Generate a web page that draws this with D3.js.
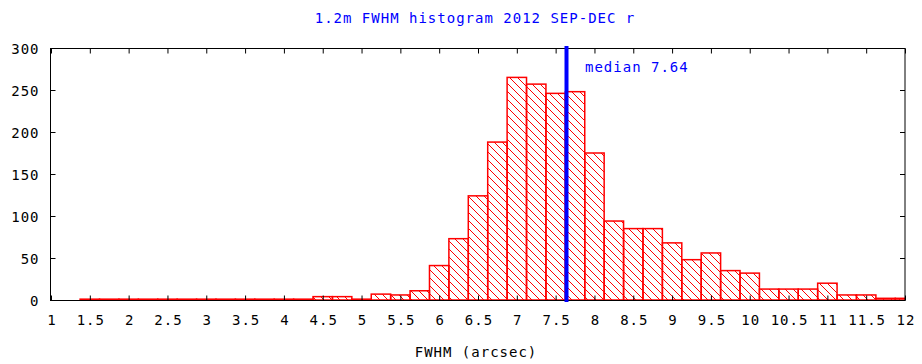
<!DOCTYPE html>
<html>
<head>
<meta charset="utf-8">
<script src="https://cdn.jsdelivr.net/npm/d3@7"></script>
<style>
  html, body { margin: 0; padding: 0; background: #fff; }
  svg { display: block; }
  text { font-family: "DejaVu Sans Mono", "Liberation Mono", monospace; font-size: 14px; letter-spacing: 1px; }
</style>
</head>
<body>
<svg id="chart" width="922" height="364"></svg>
<script>
// ---- data ----
const binCenters = [1.5,1.75,2,2.25,2.5,2.75,3,3.25,3.5,3.75,4,4.25,
  4.5,4.75,5,5.25,5.5,5.75,6,6.25,6.5,6.75,7,7.25,7.5,7.75,8,8.25,
  8.5,8.75,9,9.25,9.5,9.75,10,10.25,10.5,10.75,11,11.25,11.5,11.75,12];
const counts = [1,1,1,1,1,1,1,1,1,1,1,1,
  4,4,1,7,6,11,41,73,124,188,265,257,246,248,175,94,
  85,85,68,48,56,35,32,13,13,13,20,6,6,2,2];
const binWidth = 0.25;
const median = 7.64;
const xTicks = [1,1.5,2,2.5,3,3.5,4,4.5,5,5.5,6,6.5,7,7.5,8,8.5,9,9.5,10,10.5,11,11.5,12];
const yTicks = [0,50,100,150,200,250,300];
const titleText = "1.2m FWHM histogram 2012 SEP-DEC r";
const xLabel = "FWHM (arcsec)";

// ---- layout ----
const L = 51, R = 905, T = 48, B = 300;
const svg = d3.select("#chart");
const x = d3.scaleLinear().domain([1, 12]).range([L, R]);
const y = d3.scaleLinear().domain([0, 300]).range([B, T]);

const defs = svg.append("defs");
const pat = defs.append("pattern").attr("id", "hatch")
  .attr("patternUnits", "userSpaceOnUse").attr("width", 8).attr("height", 8);
pat.append("path").attr("d", "M-1,-1 L9,9 M-1,7 L1,9 M7,-1 L9,1")
  .attr("stroke", "#ff0000").attr("stroke-width", 1).attr("shape-rendering", "crispEdges");
defs.append("clipPath").attr("id", "plotclip").append("rect")
  .attr("x", L).attr("y", T - 2).attr("width", R - L).attr("height", B - T + 4);

// bars
const data = binCenters.map((c, i) => ({ c, v: counts[i] }));
svg.append("g").attr("clip-path", "url(#plotclip)")
  .selectAll("rect").data(data).enter().append("rect")
  .attr("x", d => x(d.c - binWidth / 2))
  .attr("width", d => x(d.c + binWidth / 2) - x(d.c - binWidth / 2))
  .attr("y", d => y(d.v))
  .attr("height", d => y(0) - y(d.v))
  .attr("fill", "url(#hatch)")
  .attr("stroke", "#ff0000")
  .attr("stroke-width", 1.5);

// frame
svg.append("rect").attr("x", L - 0.5).attr("y", T + 0.5).attr("width", R - L + 0.5).attr("height", B - T)
  .attr("fill", "none").attr("stroke", "#000").attr("stroke-width", 1);

// axes
const xb = svg.append("g").attr("transform", `translate(0,${B + 0.5})`)
  .call(d3.axisBottom(x).tickValues(xTicks).tickSizeInner(-5).tickSizeOuter(0).tickPadding(14).tickFormat(d3.format("")));
const xt = svg.append("g").attr("transform", `translate(0,${T + 0.5})`)
  .call(d3.axisTop(x).tickValues(xTicks).tickSizeInner(-5).tickSizeOuter(0).tickFormat(""));
const yl = svg.append("g").attr("transform", `translate(${L - 0.5},0)`)
  .call(d3.axisLeft(y).tickValues(yTicks).tickSizeInner(-5).tickSizeOuter(0).tickPadding(12));
const yr = svg.append("g").attr("transform", `translate(${R},0)`)
  .call(d3.axisRight(y).tickValues(yTicks).tickSizeInner(-5).tickSizeOuter(0).tickFormat(""));
[xb, xt, yl, yr].forEach(g => {
  g.select(".domain").remove();
  g.selectAll(".tick line").attr("stroke", "#000");
  g.selectAll("text").attr("fill", "#000").style("font-family", "DejaVu Sans Mono, monospace")
    .style("font-size", "14px").style("letter-spacing", "1px");
});
xb.selectAll(".tick text").attr("dy", "0.71em").attr("y", 15).attr("dx", "0.5px");
yl.selectAll(".tick text").attr("dy", "0.36em").attr("x", -11);

// median line
svg.append("line").attr("x1", x(median)).attr("x2", x(median))
  .attr("y1", T - 2).attr("y2", B + 2)
  .attr("stroke", "#0000ff").attr("stroke-width", 4);
svg.append("text").attr("x", 585).attr("y", 72).attr("fill", "#0000ff").text("median " + median.toFixed(2));

// title and axis label
svg.append("text").attr("x", 475).attr("y", 23).attr("text-anchor", "middle").attr("fill", "#0000ff").text(titleText);
svg.append("text").attr("x", 476).attr("y", 357).attr("text-anchor", "middle").attr("fill", "#000").text(xLabel);
</script>
</body>
</html>
